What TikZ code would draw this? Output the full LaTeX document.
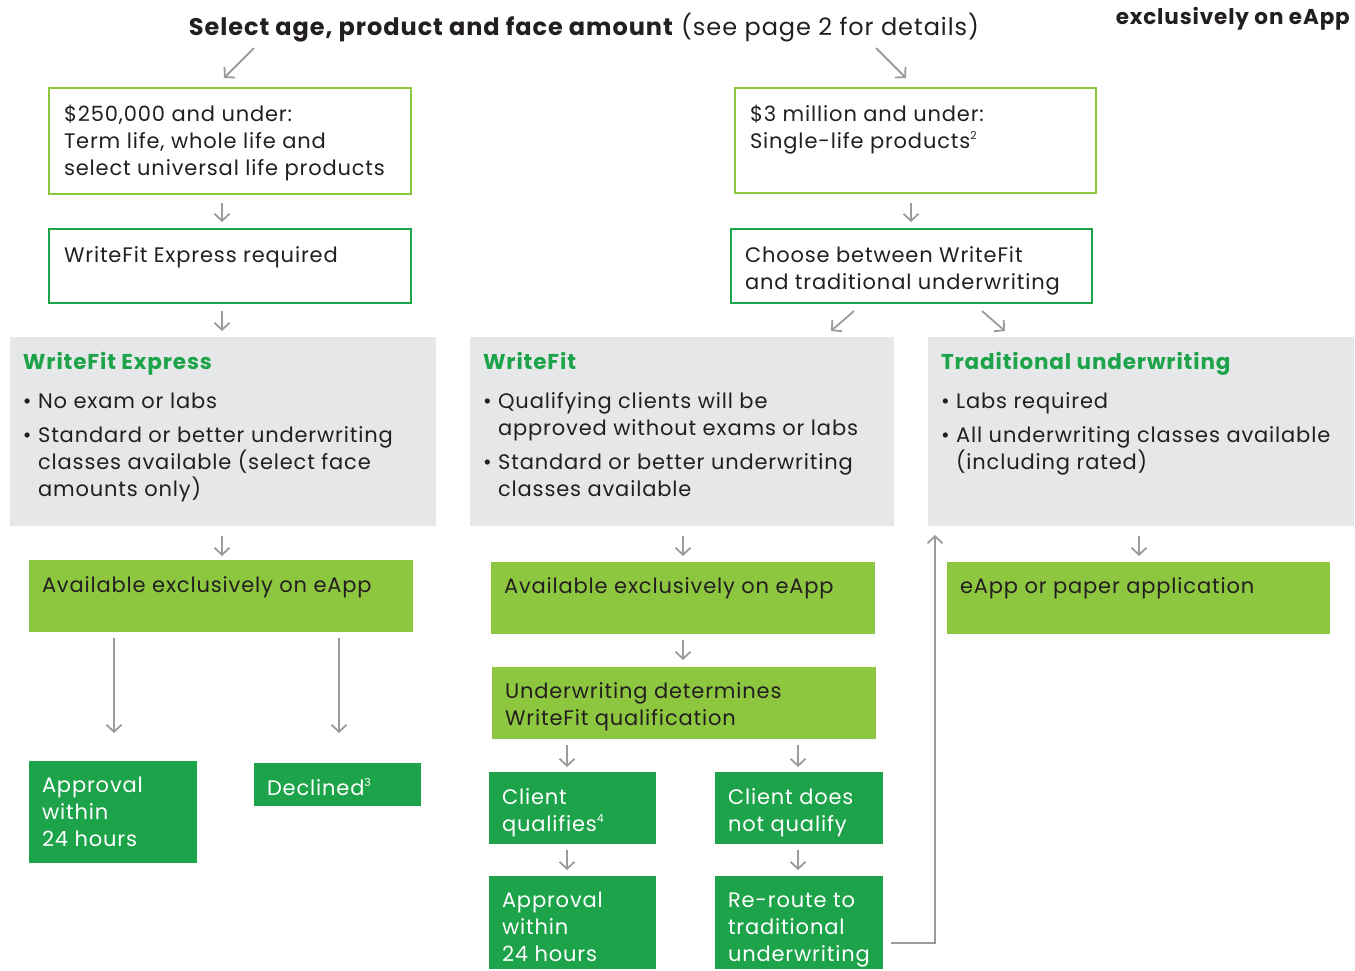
\documentclass[tikz,border=0pt]{standalone}
\usepackage{fontspec}
\setmainfont{Poppins}[LetterSpace=4]
\usetikzlibrary{arrows.meta,fit}
\definecolor{lg}{HTML}{8DC63F}
\definecolor{dg}{HTML}{1DA34A}
\definecolor{gb}{HTML}{E6E7E8}
\definecolor{ink}{HTML}{231F20}
\definecolor{ag}{HTML}{999B9E}
\tikzset{
  arr/.style={draw=ag, line width=1.8pt, -{Straight Barb[length=7pt,width=15pt]}},
  obox/.style={draw=lg, line width=2.5pt, inner sep=0, outer sep=0},
  dbox/.style={draw=dg, line width=2.5pt, inner sep=0, outer sep=0},
  gbox/.style={fill=gb, inner sep=0, outer sep=0},
  lbox/.style={fill=lg, inner sep=0, outer sep=0},
  gfbox/.style={fill=dg, inner sep=0, outer sep=0},
  tx/.style={anchor=north west, inner sep=0, outer sep=0, align=left, font=\fontsize{21}{27}\selectfont, text=ink},
  wt/.style={tx, text=white},
  hd/.style={tx, text=dg, font=\fontsize{21.5}{27}\selectfont\bfseries},
}
\newcommand\rl{\rule{0pt}{22pt}}
\newcommand\ind{\hphantom{\textbullet\ }}
\newcommand\sups[1]{\raisebox{0.75ex}{\fontsize{11}{11}\selectfont #1}}
\begin{document}
\begin{tikzpicture}[x=1pt,y=-1pt]
\useasboundingbox (0,0) rectangle (1355,970);
% header
\node[anchor=base, inner sep=0, font=\fontsize{24}{30}\selectfont, text=ink] (title) at (584,35)
  {\textbf{Select age, product and face amount} (see page 2 for details)};
\node[anchor=base east, inner sep=0, font=\fontsize{21.5}{27}\selectfont\bfseries, text=ink] (excl) at (1350,24) {exclusively on eApp};
\coordinate (t1a) at (254,48); \coordinate (t1b) at (224,78);
\coordinate (t2a) at (876,48); \coordinate (t2b) at (906,78);
\draw[arr] (t1a) -- (t1b);
\draw[arr] (t2a) -- (t2b);

% boxes
\node[obox, fit={(49,88)(411,194)}] (b1) {};
\node[dbox, fit={(49,229)(411,303)}] (b2) {};
\node[obox, fit={(735,88)(1096,193)}] (b3) {};
\node[dbox, fit={(731,229)(1092,303)}] (b4) {};
\node[gbox, fit={(10,337)(436,526)}] (gwe) {};
\node[gbox, fit={(470,337)(894,526)}] (gwf) {};
\node[gbox, fit={(928,337)(1354,526)}] (trad) {};
\node[lbox, fit={(29,560)(413,632)}] (ae1) {};
\node[lbox, fit={(491,562)(875,634)}] (ae2) {};
\node[lbox, fit={(947,562)(1330,634)}] (ep) {};
\node[lbox, fit={(492,667)(876,739)}] (uw) {};
\node[gfbox, fit={(29,761)(197,863)}] (ap1) {};
\node[gfbox, fit={(254,763)(421,806)}] (dec) {};
\node[gfbox, fit={(489,772)(656,844)}] (cq) {};
\node[gfbox, fit={(715,772)(883,844)}] (cn) {};
\node[gfbox, fit={(489,876)(656,969)}] (ap2) {};
\node[gfbox, fit={(715,876)(883,969)}] (rr) {};

% texts
\node[tx] (tb1) at (64,99) {\rl\$250,000 and under:\\Term life, whole life and\\select universal life products};
\node[tx] (tb2) at (64,240) {\rl WriteFit Express required};
\node[tx] (tb3) at (750,99) {\rl\$3 million and under:\\Single-life products\sups{2}};
\node[tx] (tb4) at (745,240) {\rl Choose between WriteFit\\and traditional underwriting};
\node[hd] (hwe) at (23,347) {\rl WriteFit Express};
\node[tx] (twe) at (23,386) {\rl\textbullet\ No exam or labs\\[7pt]\textbullet\ Standard or better underwriting\\\ind classes available (select face\\\ind amounts only)};
\node[hd] (hwf) at (483,347) {\rl WriteFit};
\node[tx] (twf) at (483,386) {\rl\textbullet\ Qualifying clients will be\\\ind approved without exams or labs\\[7pt]\textbullet\ Standard or better underwriting\\\ind classes available};
\node[hd] (htr) at (941,347) {\rl Traditional underwriting};
\node[tx] (ttr) at (941,386) {\rl\textbullet\ Labs required\\[7pt]\textbullet\ All underwriting classes available\\\ind (including rated)};
\node[tx] (tae1) at (42,570) {\rl Available exclusively on eApp};
\node[tx] (tae2) at (504,571) {\rl Available exclusively on eApp};
\node[tx] (tep) at (960,571) {\rl eApp or paper application};
\node[tx] (tuw) at (505,676) {\rl Underwriting determines\\WriteFit qualification};
\node[wt] (tap1) at (42,770) {\rl Approval\\within\\24 hours};
\node[wt] (tdec) at (267,773) {\rl Declined\sups{3}};
\node[wt] (tcq) at (502,782) {\rl Client\\qualifies\sups{4}};
\node[wt] (tcn) at (728,782) {\rl Client does\\not qualify};
\node[wt] (tap2) at (502,885) {\rl Approval\\within\\24 hours};
\node[wt] (trr) at (728,885) {\rl Re-route to\\traditional\\underwriting};

% connectors
\draw[arr] ([xshift=-8pt,yshift=-9pt]b1.south) -- ([xshift=-8pt,yshift=7pt]b2.north);
\draw[arr] ([xshift=-8pt,yshift=-8pt]b2.south) -- ([xshift=-1pt,yshift=6pt]gwe.north);
\draw[arr] ([xshift=-1pt,yshift=-10pt]gwe.south) -- ([xshift=1pt,yshift=4pt]ae1.north);
\draw[arr] ([xshift=85pt,yshift=-6pt]ae1.south west) -- ([xshift=85pt,yshift=28pt]ap1.north west);
\draw[arr] ([xshift=-74pt,yshift=-6pt]ae1.south east) -- ([xshift=1.5pt,yshift=30pt]dec.north);
\draw[arr] ([xshift=-4.5pt,yshift=-10pt]b3.south) -- ([xshift=-0.5pt,yshift=7pt]b4.north);
\draw[arr] ([xshift=-57.5pt,yshift=-8pt]b4.south) -- ([xshift=-63pt,yshift=6pt]gwf.north east);
\draw[arr] ([xshift=70.5pt,yshift=-8pt]b4.south) -- ([xshift=77pt,yshift=6pt]trad.north west);
\draw[arr] ([xshift=1pt,yshift=-10pt]gwf.south) -- ([yshift=6pt]ae2.north);
\draw[arr] ([yshift=-6pt]ae2.south) -- ([xshift=-1pt,yshift=7pt]uw.north);
\draw[arr] ([xshift=75pt,yshift=-6pt]uw.south west) -- ([xshift=-5.5pt,yshift=5pt]cq.north);
\draw[arr] ([xshift=-78pt,yshift=-6pt]uw.south east) -- ([xshift=-1pt,yshift=5pt]cn.north);
\draw[arr] ([xshift=-5.5pt,yshift=-6pt]cq.south) -- ([xshift=-5.5pt,yshift=6pt]ap2.north);
\draw[arr] ([xshift=-1pt,yshift=-6pt]cn.south) -- ([xshift=-1pt,yshift=6pt]rr.north);
\draw[arr] ([xshift=-2pt,yshift=-10pt]trad.south) -- ([xshift=0.5pt,yshift=6pt]ep.north);
\draw[arr] ([xshift=8pt,yshift=-20.5pt]rr.east) -| ([xshift=7pt,yshift=-9pt]trad.south west);
\end{tikzpicture}
\end{document}
